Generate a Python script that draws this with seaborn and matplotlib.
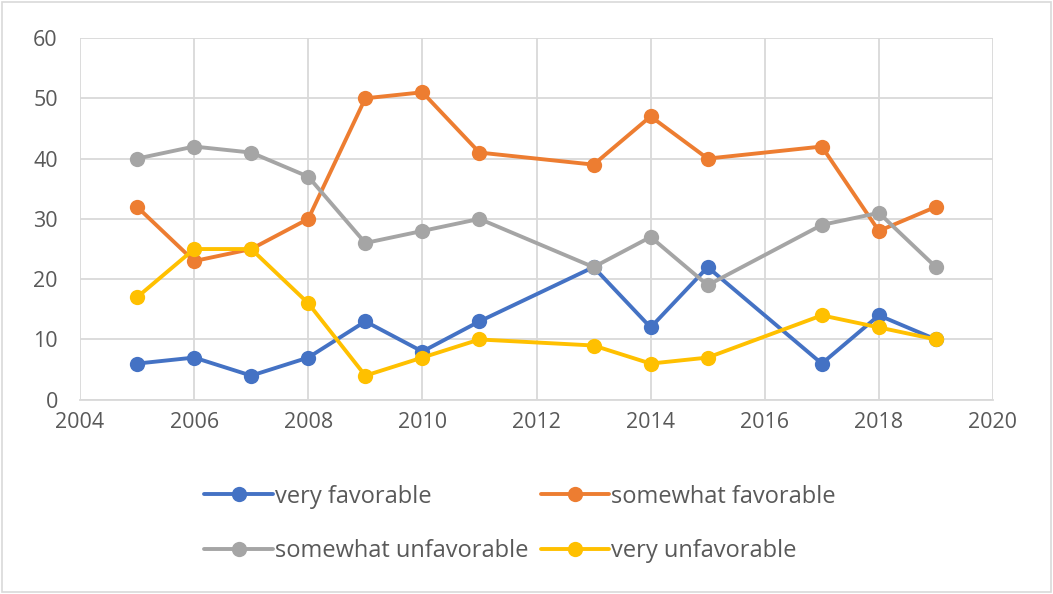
import matplotlib
matplotlib.use("Agg")
import matplotlib.pyplot as plt
import seaborn as sns
import pandas as pd
from matplotlib.patches import Rectangle

years = [2005, 2006, 2007, 2008, 2009, 2010, 2011, 2013, 2014, 2015, 2017, 2018, 2019]
very_favorable = [6, 7, 4, 7, 13, 8, 13, 22, 12, 22, 6, 14, 10]
somewhat_favorable = [32, 23, 25, 30, 50, 51, 41, 39, 47, 40, 42, 28, 32]
somewhat_unfavorable = [40, 42, 41, 37, 26, 28, 30, 22, 27, 19, 29, 31, 22]
very_unfavorable = [17, 25, 25, 16, 4, 7, 10, 9, 6, 7, 14, 12, 10]
series_names = ["very favorable", "somewhat favorable", "somewhat unfavorable", "very unfavorable"]
colors = ["#4472C4", "#ED7D31", "#A5A5A5", "#FFC000"]

rows = []
for name, vals in zip(series_names, [very_favorable, somewhat_favorable, somewhat_unfavorable, very_unfavorable]):
    for y, v in zip(years, vals):
        rows.append({"year": y, "value": v, "series": name})
df = pd.DataFrame(rows)

sns.set_theme(style="white")
plt.rcParams["font.family"] = ["Open Sans", "DejaVu Sans"]

fig = plt.figure(figsize=(10.53, 5.94), dpi=100)
ax = fig.add_axes([0.076, 0.327, 0.867, 0.609])

sns.lineplot(data=df, x="year", y="value", hue="series", hue_order=series_names,
             palette=colors, marker="o", markersize=11, markeredgewidth=0,
             linewidth=2.8, ax=ax, legend=True)

ax.set_xlim(2004, 2020)
ax.set_ylim(0, 60)
ax.set_xticks(range(2004, 2021, 2))
ax.set_yticks(range(0, 61, 10))
ax.grid(True, color="#D9D9D9", linewidth=1.3)
ax.set_axisbelow(True)
for s in ["top", "right", "left"]:
    ax.spines[s].set_visible(False)
ax.spines["bottom"].set_color("#D9D9D9")
ax.spines["bottom"].set_linewidth(1.3)
ax.tick_params(axis="both", labelsize=15.5, colors="#595959", length=0)
ax.tick_params(axis="x", pad=9)
ax.tick_params(axis="y", pad=16)
ax.set_xlabel("")
ax.set_ylabel("")

handles, labels = ax.get_legend_handles_labels()
ax.get_legend().remove()
order = [0, 2, 1, 3]
fig.legend([handles[i] for i in order], [labels[i] for i in order],
           loc="center", bbox_to_anchor=(0.494, 0.118), ncol=2,
           frameon=False, fontsize=17, labelcolor="#595959", handlelength=2.9,
           handletextpad=0.1, columnspacing=0.5, labelspacing=1.3)

fig.patches.append(Rectangle((0.002, 0.003), 0.996, 0.994, transform=fig.transFigure,
                             fill=False, edgecolor="#D9D9D9", linewidth=1.2))

fig.savefig("out.png", dpi=100)
